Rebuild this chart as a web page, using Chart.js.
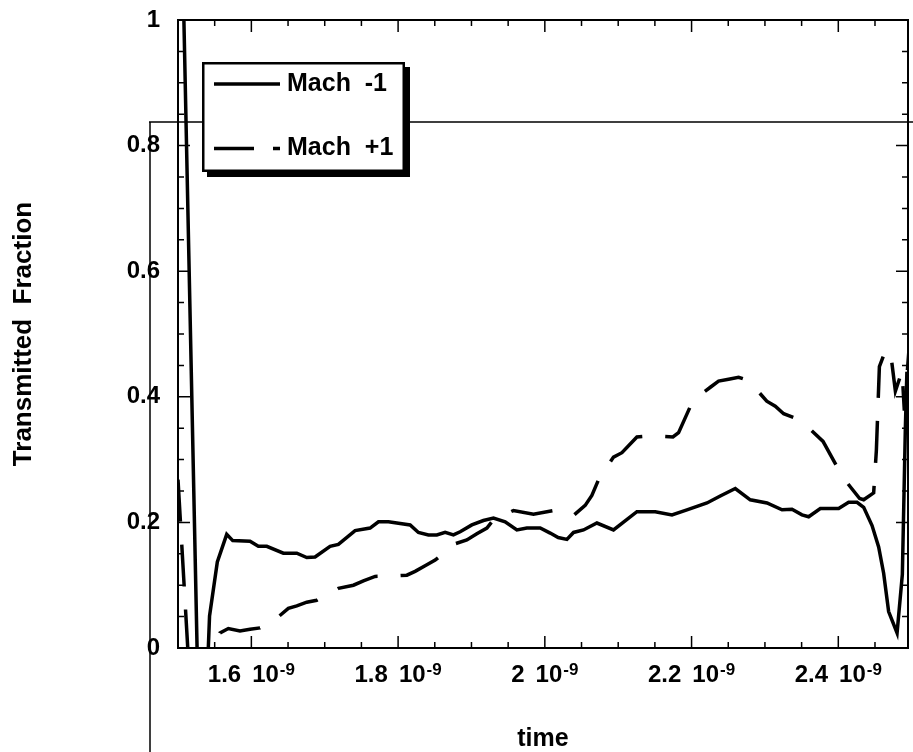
<!DOCTYPE html>
<html>
<head>
<meta charset="utf-8">
<script src="https://cdn.jsdelivr.net/npm/chart.js@4.4.1/dist/chart.umd.min.js"></script>
<style>
  html, body { margin: 0; padding: 0; background: #fff; }
  canvas { display: block; }
</style>
</head>
<body>
<canvas id="myChart" width="913" height="752"></canvas>
<script>
// time in units of 1e-9 s
const machMinusT = [1.5075, 1.5314, 1.5430, 1.5536, 1.5664, 1.5746, 1.5982, 1.6095, 1.6210, 1.6436,
  1.6619, 1.6755, 1.6868, 1.7073, 1.7186, 1.7414, 1.7618, 1.7732, 1.7868, 1.7982,
  1.8164, 1.8277, 1.8413, 1.8528, 1.8641, 1.8754, 1.8846, 1.9005, 1.9163, 1.9300,
  1.9459, 1.9619, 1.9755, 1.9937, 2.0073, 2.0182, 2.0301, 2.0391, 2.0527, 2.0710,
  2.0936, 2.1255, 2.1505, 2.1733, 2.1937, 2.2210, 2.2391, 2.2596, 2.2800, 2.3028,
  2.3233, 2.3369, 2.3505, 2.3596, 2.3755, 2.4005, 2.4141, 2.4255, 2.4346, 2.4460,
  2.4550, 2.4618, 2.4686, 2.4801, 2.4873, 2.4914, 2.4935, 2.4965]
const machMinusV = [1.03, -0.30, 0.051, 0.137, 0.181, 0.171, 0.170, 0.162, 0.162, 0.151,
  0.151, 0.144, 0.145, 0.162, 0.165, 0.187, 0.191, 0.201, 0.201, 0.199,
  0.196, 0.184, 0.180, 0.180, 0.184, 0.180, 0.185, 0.196, 0.203, 0.207,
  0.201, 0.188, 0.191, 0.191, 0.183, 0.176, 0.173, 0.184, 0.188, 0.199,
  0.188, 0.217, 0.217, 0.212, 0.220, 0.231, 0.242, 0.254, 0.236, 0.231,
  0.220, 0.221, 0.212, 0.209, 0.222, 0.222, 0.232, 0.232, 0.224, 0.195,
  0.161, 0.119, 0.058, 0.024, 0.117, 0.350, 0.44, 0.35]

const machPlusT = [1.5000, 1.5143, 1.5355, 1.5477, 1.5573, 1.5686, 1.5845, 1.5982, 1.6118, 1.6381,
  1.6504, 1.6619, 1.6755, 1.6891, 1.7186, 1.7391, 1.7527, 1.7686, 1.7982, 1.8119,
  1.8232, 1.8368, 1.8505, 1.8777, 1.8937, 1.9073, 1.9210, 1.9300, 1.9573, 1.9845,
  2.0118, 2.0391, 2.0550, 2.0641, 2.0732, 2.0936, 2.1051, 2.1255, 2.1460, 2.1746,
  2.1823, 2.2019, 2.2265, 2.2368, 2.2505, 2.2641, 2.2777, 2.3025, 2.3141, 2.3255,
  2.3391, 2.3527, 2.3792, 2.3914, 2.4073, 2.4291, 2.4346, 2.4482, 2.4519, 2.4560,
  2.4641, 2.4710, 2.4778, 2.4869, 2.4900, 2.4960]
const machPlusV = [0.268, -0.02, -0.055, -0.02, 0.024, 0.031, 0.027, 0.030, 0.032, 0.051,
  0.063, 0.067, 0.073, 0.076, 0.095, 0.100, 0.107, 0.114, 0.115, 0.116,
  0.122, 0.131, 0.140, 0.166, 0.172, 0.182, 0.191, 0.204, 0.219, 0.213,
  0.219, 0.211, 0.227, 0.243, 0.268, 0.304, 0.311, 0.336, 0.338, 0.336,
  0.343, 0.394, 0.416, 0.425, 0.428, 0.431, 0.426, 0.393, 0.385, 0.373,
  0.367, 0.358, 0.329, 0.303, 0.270, 0.238, 0.236, 0.247, 0.315, 0.448,
  0.473, 0.473, 0.409, 0.441, 0.378, 0.47]

const seriesNames = ['Mach  -1', 'Mach  +1']

// axes
const xMin = 1.5, xMax = 2.495, xMinorStep = 0.05
const xTickValues = [1.6, 1.8, 2.0, 2.2, 2.4]
const xTickLabels = ['1.6', '1.8', '2', '2.2', '2.4']
const xTickBase = '10'
const xTickPower = '-9'
const yMinorStep = 0.05
const yTickValues = [0, 0.2, 0.4, 0.6, 0.8, 1]
const yTickLabels = ['0', '0.2', '0.4', '0.6', '0.8', '1']

const FONT = '"Liberation Sans", Arial, sans-serif'
Chart.defaults.font.family = FONT
Chart.defaults.color = '#000'

const plotDash = [42, 23]
const legendDash = [40, 19]

const isMajor = (v, list) => list.some(m => Math.abs(m - v) < 1e-6)

// frame, inward ticks, x labels with exponent, boxed legend
const framePlugin = {
  id: 'frame',
  beforeDatasetsDraw(chart) {
    const ctx = chart.ctx
    ctx.save()
    ctx.strokeStyle = '#000'
    ctx.lineWidth = 1.5
    ctx.beginPath()
    ctx.moveTo(149, 122); ctx.lineTo(913, 122)
    ctx.moveTo(150, 122); ctx.lineTo(150, 752)
    ctx.stroke()
    ctx.restore()
  },
  afterDatasetsDraw(chart) {
    const {ctx, chartArea: a, scales: {x, y}} = chart
    ctx.save()
    ctx.strokeStyle = '#000'
    ctx.lineWidth = 2
    ctx.strokeRect(a.left, a.top, a.right - a.left, a.bottom - a.top)

    ctx.lineWidth = 1.5
    ctx.beginPath()
    x.ticks.forEach(t => {
      const px = x.getPixelForValue(t.value)
      const len = isMajor(t.value, xTickValues) ? 12 : 6
      ctx.moveTo(px, a.bottom); ctx.lineTo(px, a.bottom - len)
      ctx.moveTo(px, a.top); ctx.lineTo(px, a.top + len)
    })
    y.ticks.forEach(t => {
      const py = y.getPixelForValue(t.value)
      const len = isMajor(t.value, yTickValues) ? 12 : 6
      ctx.moveTo(a.left, py); ctx.lineTo(a.left + len, py)
      ctx.moveTo(a.right, py); ctx.lineTo(a.right - len, py)
    })
    ctx.stroke()

    // x tick labels "1.6 10^-9"
    ctx.fillStyle = '#000'
    ctx.textAlign = 'left'
    ctx.textBaseline = 'alphabetic'
    const mainFont = 'bold 24px ' + FONT
    const supFont = 'bold 17px ' + FONT
    const gap = 11
    xTickValues.forEach((v, i) => {
      const px = x.getPixelForValue(v)
      ctx.font = mainFont
      const w0 = ctx.measureText(xTickLabels[i]).width
      const w1 = ctx.measureText(xTickBase).width
      ctx.font = supFont
      const w2 = ctx.measureText(xTickPower).width
      const x0 = px - (w0 + gap + w1 + 1 + w2) / 2
      ctx.font = mainFont
      ctx.fillText(xTickLabels[i], x0, a.bottom + 34)
      ctx.fillText(xTickBase, x0 + w0 + gap, a.bottom + 34)
      ctx.font = supFont
      ctx.fillText(xTickPower, x0 + w0 + gap + w1 + 1, a.bottom + 27)
    })

    // legend box with drop shadow
    const lx = a.left + 24, ly = a.top + 42, lw = 203, lh = 110
    ctx.fillStyle = '#000'
    ctx.fillRect(lx + 5, ly + 5, lw, lh)
    ctx.fillStyle = '#fff'
    ctx.fillRect(lx, ly, lw, lh)
    ctx.lineWidth = 2.5
    ctx.strokeRect(lx + 1.25, ly + 1.25, lw - 2.5, lh - 2.5)
    chart.data.datasets.forEach((ds, i) => {
      const ry = ly + 22 + i * 64.5
      ctx.lineWidth = ds.borderWidth
      ctx.setLineDash(ds.borderDash ? legendDash : [])
      ctx.beginPath()
      ctx.moveTo(lx + 12, ry); ctx.lineTo(lx + 78, ry)
      ctx.stroke()
      ctx.setLineDash([])
      ctx.fillStyle = '#000'
      ctx.font = 'bold 25px ' + FONT
      ctx.textBaseline = 'middle'
      ctx.fillText(ds.label, lx + 85, ry)
    })
    ctx.restore()
  }
}

const context = document.getElementById('myChart')

const myChart = new Chart(context, {
  type: 'line',
  data: {
    datasets: [{
      label: seriesNames[0],
      data: machMinusT.map((t, i) => ({x: t, y: machMinusV[i]})),
      borderColor: '#000',
      borderWidth: 3.5,
      fill: false
    }, {
      label: seriesNames[1],
      data: machPlusT.map((t, i) => ({x: t, y: machPlusV[i]})),
      borderColor: '#000',
      borderWidth: 3.5,
      borderDash: plotDash,
      fill: false
    }]
  },
  options: {
    responsive: false,
    animation: false,
    devicePixelRatio: 1,
    layout: {padding: {left: 0, top: 20, right: 5, bottom: 0}},
    elements: {point: {radius: 0}, line: {tension: 0}},
    plugins: {legend: {display: false}, tooltip: {enabled: false}},
    scales: {
      x: {
        type: 'linear',
        min: xMin,
        max: xMax,
        afterBuildTicks: s => {
          const ticks = []
          for (let v = xMin + xMinorStep; v < xMax - 1e-6; v += xMinorStep) ticks.push({value: v})
          s.ticks = ticks
        },
        afterFit: s => { s.height = 104; s.paddingLeft = 0; s.paddingRight = 0 },
        grid: {display: false, drawTicks: false},
        border: {display: false},
        ticks: {display: false},
        title: {
          display: true,
          text: 'time',
          color: '#000',
          font: {size: 25, weight: 'bold'},
          padding: {top: 0, bottom: -2}
        }
      },
      y: {
        min: 0,
        max: 1,
        afterBuildTicks: s => {
          const ticks = []
          for (let v = 0; v <= 1 + 1e-6; v += yMinorStep) ticks.push({value: v})
          s.ticks = ticks
        },
        afterFit: s => { s.width = 178; s.paddingTop = 0; s.paddingBottom = 0 },
        grid: {display: false, drawTicks: false},
        border: {display: false},
        ticks: {
          autoSkip: false,
          padding: 18,
          color: '#000',
          font: {size: 24, weight: 'bold'},
          callback: v => {
            const i = yTickValues.findIndex(m => Math.abs(m - v) < 1e-6)
            return i < 0 ? '' : yTickLabels[i]
          }
        },
        title: {
          display: true,
          text: 'Transmitted  Fraction',
          color: '#000',
          font: {size: 26, weight: 'bold'},
          padding: {top: 8, bottom: 0}
        }
      }
    }
  },
  plugins: [framePlugin]
})
</script>
</body>
</html>
